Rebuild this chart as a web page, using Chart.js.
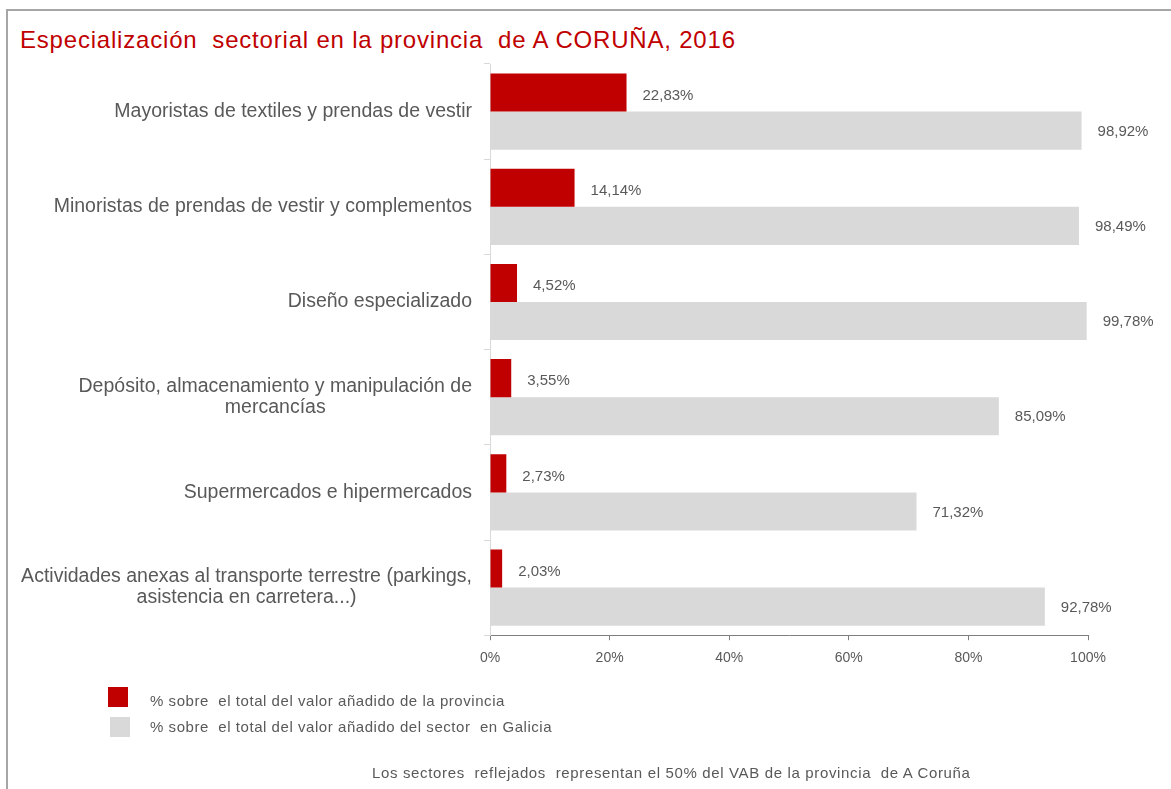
<!DOCTYPE html>
<html lang="es">
<head>
<meta charset="utf-8">
<script src="https://cdn.jsdelivr.net/npm/chart.js@4.4.1/dist/chart.umd.min.js"></script>
<style>
  html, body { margin: 0; padding: 0; background: #fff; }
  body { width: 1171px; height: 789px; position: relative; overflow: hidden; font-family: "Liberation Sans", Arial, sans-serif; }
  #frame { position: absolute; left: 6px; top: 9px; width: 1180px; height: 800px; border-top: 2px solid #a6a6a6; border-left: 2px solid #a6a6a6; }
  #title { position: absolute; left: 20px; top: 26px; font-size: 24px; line-height: 28px; letter-spacing: 0.8px; color: #c00000; white-space: pre; }
  #chartBox { position: absolute; left: 0; top: 0; width: 1171px; height: 789px; }
  .sw { position: absolute; width: 20px; height: 20px; }
  .tx { position: absolute; left: 150px; font-size: 15px; line-height: 18px; letter-spacing: 0.55px; color: #595959; white-space: pre; }
  #note { position: absolute; left: 372px; top: 764px; font-size: 15px; line-height: 18px; letter-spacing: 0.65px; color: #595959; white-space: pre; }
</style>
</head>
<body>
<div id="frame"></div>
<div id="title">Especialización  sectorial en la provincia  de A CORUÑA, 2016</div>
<div id="chartBox"><canvas id="sectorChart"></canvas></div>
<div id="legend"></div>
<div id="note">Los sectores  reflejados  representan el 50% del VAB de la provincia  de A Coruña</div>

<script>
// --- Datos ---
const categories = [
  ['Mayoristas de textiles y prendas de vestir'],
  ['Minoristas de prendas de vestir y complementos'],
  ['Diseño especializado'],
  ['Depósito, almacenamiento y manipulación de', 'mercancías'],
  ['Supermercados e hipermercados'],
  ['Actividades anexas al transporte terrestre (parkings,', 'asistencia en carretera...)']
];
const shareProvince = [22.83, 14.14, 4.52, 3.55, 2.73, 2.03];
const shareGalicia = [98.92, 98.49, 99.78, 85.09, 71.32, 92.78];
const seriesNames = [
  '% sobre  el total del valor añadido de la provincia',
  '% sobre  el total del valor añadido del sector  en Galicia'
];
const xTicks = [0, 20, 40, 60, 80, 100];

const FONT = '"Liberation Sans", Arial, sans-serif';
const GREY_TEXT = '#595959';

// --- Etiquetas del eje Y (líneas centradas, bloque alineado a la derecha) ---
const yLabelPlugin = {
  id: 'yLabels',
  afterDraw(chart) {
    const { ctx, scales: { y } } = chart;
    ctx.save();
    ctx.font = '19.5px ' + FONT;
    ctx.fillStyle = GREY_TEXT;
    ctx.textAlign = 'center';
    ctx.textBaseline = 'middle';
    const right = y.right - 18;
    const lineH = 21;
    categories.forEach((lines, i) => {
      const cy = y.getPixelForValue(i);
      const widest = Math.max(...lines.map(l => ctx.measureText(l).width));
      const cx = right - widest / 2;
      lines.forEach((l, j) => {
        ctx.fillText(l, cx, cy + (j - (lines.length - 1) / 2) * lineH);
      });
    });
    ctx.restore();
  }
};

// --- Etiquetas de valor ---
const labelShiftY = [3, 1];
const valueLabelPlugin = {
  id: 'valueLabels',
  afterDatasetsDraw(chart) {
    const { ctx } = chart;
    ctx.save();
    ctx.font = '15px ' + FONT;
    ctx.fillStyle = GREY_TEXT;
    ctx.textAlign = 'left';
    ctx.textBaseline = 'middle';
    chart.data.datasets.forEach((ds, di) => {
      chart.getDatasetMeta(di).data.forEach((bar, i) => {
        const txt = ds.data[i].toFixed(2).replace('.', ',') + '%';
        ctx.fillText(txt, bar.x + 16, bar.y + labelShiftY[di]);
      });
    });
    ctx.restore();
  }
};

const sectorChart = new Chart(document.getElementById('sectorChart'), {
  type: 'bar',
  data: {
    labels: categories.map(c => c.join(' ')),
    datasets: [{
      label: seriesNames[0],
      data: shareProvince,
      backgroundColor: '#c00000',
      categoryPercentage: 0.8,
      barPercentage: 1.0
    }, {
      label: seriesNames[1],
      data: shareGalicia,
      backgroundColor: '#d9d9d9',
      categoryPercentage: 0.8,
      barPercentage: 1.0
    }]
  },
  options: {
    indexAxis: 'y',
    responsive: true,
    maintainAspectRatio: false,
    animation: false,
    layout: { padding: { left: 484, right: 83, top: 64, bottom: 112 } },
    plugins: {
      legend: { display: false },
      title: { display: false },
      tooltip: { enabled: false }
    },
    scales: {
      x: {
        min: 0,
        max: 100,
        afterBuildTicks: axis => { axis.ticks = xTicks.map(v => ({ value: v })); },
        ticks: {
          padding: 10,
          color: GREY_TEXT,
          font: { family: FONT, size: 14 },
          callback: v => v + '%'
        },
        grid: { drawOnChartArea: false, drawTicks: true, tickLength: 5, color: '#7f7f7f' },
        border: { color: '#7f7f7f', width: 1 }
      },
      y: {
        ticks: { display: false },
        grid: { drawOnChartArea: false, drawTicks: true, tickLength: 6, color: '#d9d9d9', offset: true },
        border: { color: '#d9d9d9', width: 1 }
      }
    }
  },
  plugins: [yLabelPlugin, valueLabelPlugin]
});

// --- Leyenda ---
const swatchPos = [[108, 687], [110, 717]];
const legendTextTops = [692, 718];
const legendBox = document.getElementById('legend');
sectorChart.data.datasets.forEach((ds, i) => {
  const sw = document.createElement('span');
  sw.className = 'sw';
  sw.style.left = swatchPos[i][0] + 'px';
  sw.style.top = swatchPos[i][1] + 'px';
  sw.style.background = ds.backgroundColor;
  const tx = document.createElement('span');
  tx.className = 'tx';
  tx.style.top = legendTextTops[i] + 'px';
  tx.textContent = ds.label;
  legendBox.appendChild(sw);
  legendBox.appendChild(tx);
});
</script>
</body>
</html>
